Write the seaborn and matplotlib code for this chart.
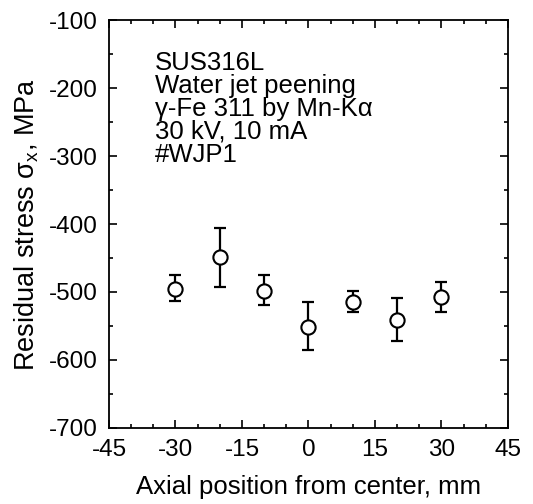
import matplotlib
matplotlib.use("Agg")
import matplotlib.pyplot as plt
from matplotlib.ticker import MultipleLocator
import numpy as np
import pandas as pd
import seaborn as sns

# data
position = [-30, -20, -10, 0, 10, 20, 30]
stress = [-495, -449, -498, -551, -515, -541, -507]
err_up = [20, 43, 23, 36, 16, 32, 22]
err_low = [19, 43, 21, 35, 15, 31, 22]

info_lines = ["SUS316L", "Water jet peening", "γ-Fe 311 by Mn-Kα",
              "30 kV, 10 mA", "#WJP1"]

df = pd.DataFrame({"pos": position, "stress": stress})

sns.set_style("ticks")
plt.rcParams['font.family'] = ['Liberation Sans', 'DejaVu Sans']
plt.rcParams['mathtext.fontset'] = 'custom'
plt.rcParams['mathtext.rm'] = 'Liberation Sans'
plt.rcParams['axes.unicode_minus'] = False
plt.rcParams['text.color'] = 'black'
plt.rcParams['axes.labelcolor'] = 'black'

fs = 17.5

fig = plt.figure(figsize=(5.33, 5.04), dpi=100)
ax = fig.add_axes([0.2045, 0.151, 0.7485, 0.809])

ax.errorbar(df["pos"], df["stress"], yerr=[err_low, err_up], fmt='none',
            ecolor='black', elinewidth=1.6, capsize=4.5, capthick=1.6, zorder=2)
sns.scatterplot(data=df, x="pos", y="stress", ax=ax, marker='o', s=105,
                facecolor='white', edgecolor='black', linewidth=1.5, zorder=3)

ax.set_xlim(-45, 45)
ax.set_ylim(-700, -100)
ax.xaxis.set_major_locator(MultipleLocator(15))
ax.xaxis.set_minor_locator(MultipleLocator(5))
ax.yaxis.set_major_locator(MultipleLocator(100))
ax.yaxis.set_minor_locator(MultipleLocator(50))
ax.tick_params(which='both', direction='in', top=True, right=True,
               width=1.2, colors='black', labelsize=fs)
ax.tick_params(which='major', length=6)
ax.tick_params(which='minor', length=3)
ax.tick_params(axis='x', which='major', pad=8)
ax.tick_params(axis='y', which='major', pad=8)
for sp in ax.spines.values():
    sp.set_linewidth(1.3)
    sp.set_color('black')

ax.set_xlabel("Axial position from center, mm", fontsize=18.5, labelpad=10)
ax.set_ylabel(r"Residual stress σ$_\mathrm{x}$, MPa", fontsize=19.5, labelpad=6)

ax.text(0.115, 0.925, "\n".join(info_lines), transform=ax.transAxes,
        fontsize=18.5, va='top', ha='left', linespacing=0.95)

fig.savefig("out.png", dpi=100)
